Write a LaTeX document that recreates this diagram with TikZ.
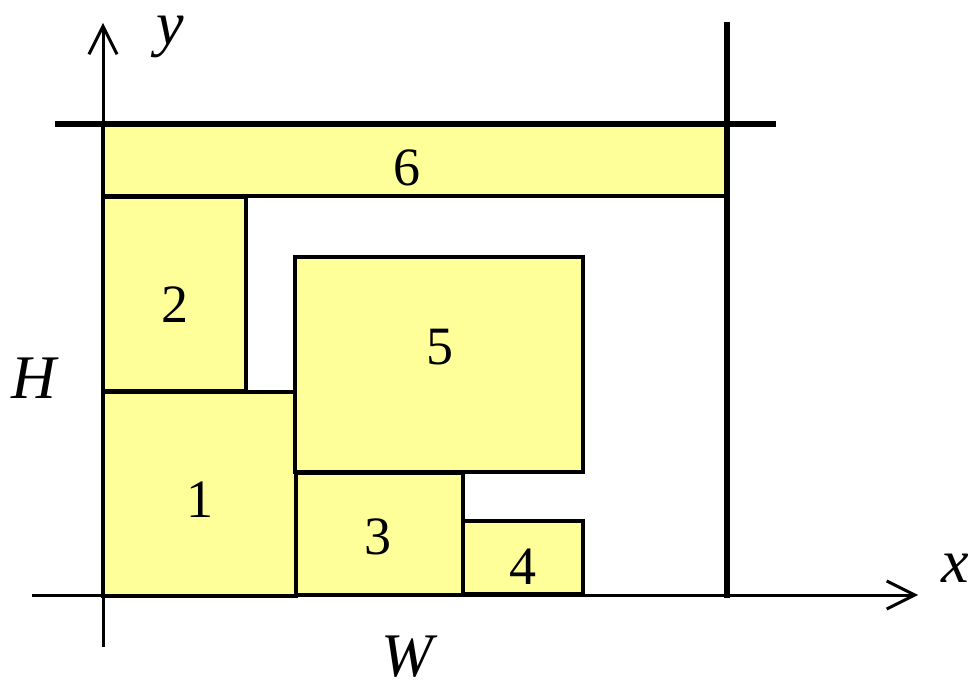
\documentclass[tikz,border=0pt]{standalone}
\usepackage{fontspec}
\setmainfont{Liberation Serif}
\usetikzlibrary{arrows.meta}
\definecolor{boxfill}{HTML}{FFFF99}
\begin{document}
\begin{tikzpicture}[x=0.5pt,y=-0.5pt,
  box/.style={draw=black,fill=boxfill,line width=1.9pt},
  axis/.style={line width=1.5pt,-{Straight Barb[length=14pt,width=14pt,line width=1.5pt]}},
  frameline/.style={line width=2.8pt},
  num/.style={font=\fontsize{27}{32}\selectfont,inner sep=0pt},
  var/.style={font=\fontsize{31}{36}\selectfont\itshape,inner sep=0pt}]
\useasboundingbox (0,0) rectangle (968,683);
% rectangles
\path[box] (103,123) rectangle (727,196);
\path[box] (103,197) rectangle (246,391);
\path[box] (103,392) rectangle (296,596);
\path[box] (295,257) rectangle (583,472);
\path[box] (296,473) rectangle (463,595);
\path[box] (463,521) rectangle (583,594);
% labels
\node[num] (n6) at (407,168) {6};
\node[num] (n2) at (175,305) {2};
\node[num] (n1) at (200,500) {1};
\node[num] (n5) at (440,347) {5};
\node[num] (n3) at (378,537) {3};
\node[num] (n4) at (523,567) {4};
% axes
\coordinate (xs) at (32,595);
\coordinate (xe) at (918,595);
\coordinate (ys) at (103,647);
\coordinate (ye) at (103,23);
\draw[axis] (xs) -- (xe);
\draw[axis] (ys) -- (ye);
% frame lines
\coordinate (hs) at (55,124);
\coordinate (he) at (776,124);
\coordinate (vs) at (727,22);
\coordinate (ve) at (727,598);
\draw[frameline] (hs) -- (he);
\draw[frameline] (vs) -- (ve);
% axis labels
\node[var] (lx) at (955,568) {x};
\node[var] (ly) at (170,37) {y};
\node[var] (lH) at (34,378) {H};
\node[var] (lW) at (407,657) {W};
\end{tikzpicture}
\end{document}
